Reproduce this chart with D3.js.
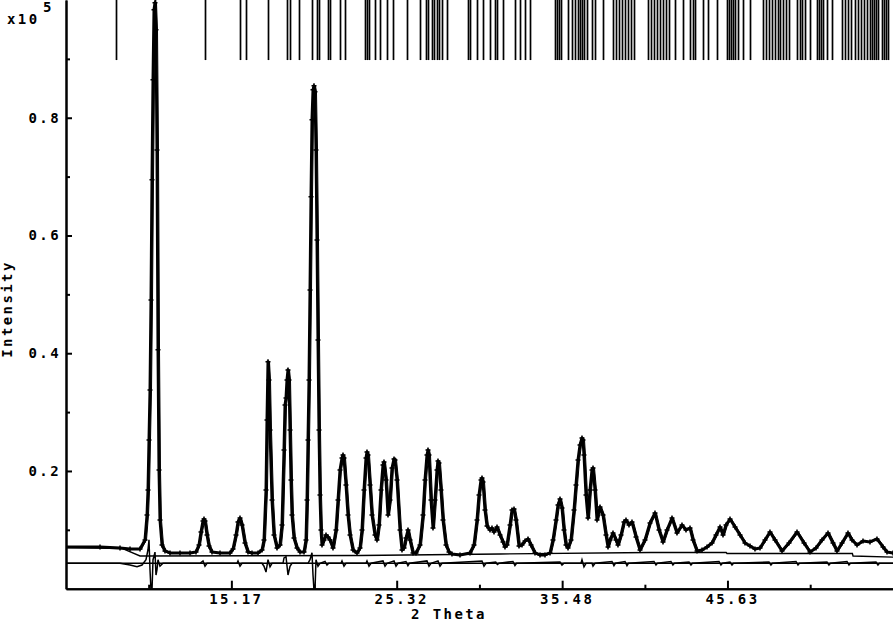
<!DOCTYPE html>
<html><head><meta charset="utf-8">
<script src="https://cdn.jsdelivr.net/npm/d3@7"></script>
<style>
html,body{margin:0;padding:0;background:#fff;}
svg{display:block;}
text{font-family:"DejaVu Sans Mono","Liberation Mono",monospace;font-weight:bold;font-size:14px;fill:#000;letter-spacing:2.4px;}
</style></head><body>
<svg id="chart" width="893" height="622"></svg>
<script>
// ---- axis ticks ----
const xMajorTicks = [15.17, 25.32, 35.48, 45.63];
const xMajorLabels = ["15.17", "25.32", "35.48", "45.63"];
const xMinorTicks = [10.09, 20.25, 30.40, 40.56, 50.71];
const yMajorTicks = [0.2, 0.4, 0.6, 0.8];
const yMajorLabels = ["0.2", "0.4", "0.6", "0.8"];
const yMinorTicks = [0.1, 0.3, 0.5, 0.7, 0.9];
const xDomain = [5.016, 55.794];
const yDomain = [0, 1.0];
const xTitle = "2 Theta";
const yTitle = "Intensity";

// ---- observed pattern (2theta, intensity x1e5) ----
const obsTheta = [5.016,7.104,8.332,8.946,9.560,9.867,9.99,10.051,10.112,10.174,10.235,10.296,10.358,10.419,10.480,10.542,10.603,10.665,10.726,10.787,10.910,11.094,11.401,12.015,12.63,12.998,13.182,13.305,13.428,13.49,13.551,13.674,13.797,13.98,14.472,15.086,15.27,15.454,15.577,15.70,15.822,16.006,16.191,16.436,16.805,17.05,17.173,17.296,17.357,17.419,17.48,17.542,17.664,17.787,17.972,18.156,18.278,18.401,18.463,18.524,18.585,18.647,18.708,18.77,18.831,18.892,19.015,19.20,19.384,19.63,19.752,19.814,19.875,19.936,19.998,20.059,20.12,20.182,20.243,20.304,20.366,20.427,20.488,20.55,20.611,20.672,20.734,20.857,20.98,21.102,21.225,21.41,21.594,21.717,21.84,21.962,22.024,22.085,22.208,22.33,22.454,22.638,22.884,23.068,23.19,23.313,23.436,23.497,23.559,23.682,23.804,23.988,24.111,24.234,24.357,24.48,24.54,24.664,24.787,24.91,25.032,25.156,25.217,25.34,25.524,25.646,25.77,25.892,26.015,26.138,26.322,26.506,26.752,26.936,27.058,27.18,27.243,27.304,27.427,27.55,27.672,27.795,27.857,27.918,28.04,28.164,28.348,28.532,28.716,29.208,29.822,30.067,30.252,30.374,30.497,30.558,30.62,30.742,30.866,31.05,31.172,31.296,31.48,31.664,31.848,31.97,32.094,32.278,32.4,32.524,32.646,32.83,33.014,33.198,33.383,33.567,33.812,34.12,34.426,34.734,34.918,35.102,35.225,35.348,35.47,35.593,35.716,35.84,36.023,36.208,36.33,36.453,36.576,36.698,36.76,36.82,36.944,37.067,37.19,37.312,37.374,37.497,37.62,37.804,37.988,38.172,38.296,38.418,38.602,38.786,38.908,39.093,39.277,39.40,39.584,39.768,40.014,40.26,40.566,40.874,41.18,41.426,41.672,41.917,42.224,42.53,42.838,43.084,43.33,43.514,43.76,44.066,44.374,44.68,44.926,45.172,45.356,45.54,45.786,46.093,46.40,46.706,47.014,47.32,47.628,47.934,48.24,48.548,48.978,49.408,49.90,50.33,50.697,51.066,51.434,51.803,52.11,52.355,52.662,53.03,53.276,53.584,53.952,54.382,54.81,55.18,55.426,55.794];
const obsInt = [0.0709,0.0709,0.0692,0.0675,0.0675,0.0828,0.1252,0.1677,0.2527,0.3376,0.4906,0.6945,0.8644,0.9833,0.9953,0.9494,0.7454,0.4057,0.2017,0.1167,0.0743,0.0641,0.0607,0.0607,0.0607,0.0624,0.0743,0.0963,0.1150,0.1184,0.1150,0.0912,0.0726,0.0624,0.0607,0.0607,0.0675,0.0912,0.1133,0.1201,0.1082,0.0777,0.0624,0.0607,0.0607,0.0658,0.0828,0.1677,0.2867,0.3853,0.3547,0.2697,0.1507,0.0912,0.0692,0.0743,0.1082,0.2357,0.3121,0.3240,0.3547,0.3717,0.3547,0.2697,0.1847,0.1252,0.0861,0.0692,0.0624,0.0624,0.0828,0.1507,0.2527,0.3547,0.5075,0.6656,0.7964,0.8475,0.8542,0.8440,0.7454,0.5925,0.4226,0.2697,0.1592,0.0997,0.0743,0.0828,0.0912,0.0879,0.0828,0.0692,0.0997,0.1507,0.2017,0.2221,0.2272,0.2221,0.1762,0.1252,0.0912,0.0658,0.0607,0.0692,0.0997,0.1677,0.2221,0.2323,0.2272,0.1762,0.1252,0.0912,0.0828,0.1082,0.1677,0.2102,0.2153,0.1847,0.1252,0.1507,0.2051,0.2204,0.2187,0.1847,0.0997,0.0658,0.0692,0.0861,0.0997,0.0828,0.0607,0.0607,0.0743,0.1252,0.1847,0.2272,0.2357,0.2272,0.1507,0.1031,0.1507,0.2017,0.2170,0.2136,0.1677,0.1167,0.0743,0.0624,0.0590,0.0573,0.0607,0.0743,0.1167,0.1592,0.1847,0.1881,0.1813,0.1337,0.1065,0.0997,0.1031,0.0963,0.1048,0.0912,0.0794,0.0709,0.0743,0.1082,0.1337,0.1354,0.1167,0.0726,0.0743,0.0811,0.0845,0.0743,0.0607,0.0573,0.0573,0.0607,0.0828,0.1167,0.1422,0.1524,0.1371,0.0997,0.0743,0.0692,0.0828,0.1337,0.1762,0.2187,0.2442,0.2561,0.2527,0.2272,0.1592,0.1201,0.1677,0.2017,0.2051,0.1677,0.1167,0.1388,0.1252,0.0912,0.0709,0.0828,0.0946,0.0828,0.0743,0.0912,0.1133,0.1167,0.1082,0.1133,0.0879,0.0658,0.0828,0.1116,0.1286,0.0997,0.0794,0.0997,0.1201,0.0946,0.1082,0.0997,0.1031,0.0828,0.0641,0.0658,0.0709,0.0777,0.0912,0.1048,0.0912,0.1082,0.1184,0.1048,0.0912,0.0777,0.0726,0.0675,0.0692,0.0828,0.0963,0.0828,0.0641,0.0777,0.0963,0.0777,0.0624,0.0692,0.0828,0.0946,0.0777,0.0641,0.0777,0.0946,0.0828,0.0743,0.0811,0.0794,0.0845,0.0709,0.0624,0.0607];

// ---- background ----
const bgTheta = [5.016, 8.5, 9.56, 23.068, 31.664, 40.874, 45.55, 45.60, 53.30, 53.34, 55.794];
const bgInt   = [0.0700, 0.0680, 0.0556, 0.0564, 0.0590, 0.0615, 0.0615, 0.0598, 0.0598, 0.0556, 0.0537];

// ---- difference curve (obs - calc), drawn around its zero line ----
const diffZero = 0.0432;
const diffTheta = [5.016,8.332,8.946,9.376,9.683,9.928,10.051,10.112,10.174,10.235,10.296,10.358,10.419,10.480,10.542,10.603,10.665,10.787,10.972,13.244,13.428,13.551,13.674,15.515,15.577,15.70,15.822,17.05,17.173,17.296,17.419,17.542,17.664,18.34,18.401,18.524,18.647,18.77,18.892,19.875,19.998,20.12,20.182,20.243,20.304,20.366,20.488,20.611,20.92,21.04,21.15,21.9,21.962,22.085,22.208,23.436,23.497,23.62,23.743,24.48,24.603,24.726,25.156,25.278,25.401,25.89,26.01,26.1,27.18,27.304,27.427,27.857,27.98,28.102,30.558,30.681,30.804,31.4,31.5,31.6,32.46,32.58,32.68,35.348,35.47,35.593,36.637,36.698,36.82,36.944,37.312,37.374,37.497,38.54,38.66,38.75,39.34,39.46,39.55,41.12,41.24,41.33,42.16,42.28,42.37,43.27,43.39,43.48,45.11,45.23,45.32,45.786,45.908,46.0,48.18,48.30,48.39,49.84,49.96,50.05,51.74,51.86,51.95,52.97,53.09,53.18,54.75,54.87,54.96,55.794];
const diffVal = [0,0,-0.003,-0.006,-0.003,0.006,0.023,0.040,-0.011,-0.046,-0.046,0.006,0.012,0.019,-0.020,-0.011,0.006,-0.005,0,0,0.004,-0.005,0,0,0.004,-0.005,0,0,-0.005,-0.015,0.006,-0.006,0,0,0.009,0.011,-0.020,-0.005,0,0,0.006,0.018,-0.020,-0.046,-0.046,0.006,-0.005,0,0.003,-0.003,0,0,0.004,-0.005,0,0,0.004,-0.005,0,0.004,-0.005,0,0.004,-0.005,0,0.003,-0.004,0,0.004,-0.005,0,0.004,-0.005,0,0.004,-0.005,0,0.002,-0.002,0,0.003,-0.004,0,0.002,-0.003,0,0,0.006,-0.006,0,0,-0.005,0,0.003,-0.004,0,0.003,-0.004,0,0.003,-0.003,0,0.003,-0.003,0,0.002,-0.003,0,0.003,-0.003,0,0.002,-0.003,0,0.002,-0.003,0,0.003,-0.003,0,0.002,-0.003,0,0.003,-0.003,0,0.002,-0.003,0,0];

// ---- reflection positions (2theta) ----
const reflTheta = [8.09,10.48,13.55,15.70,16.07,17.42,18.59,18.77,19.32,20.12,20.43,20.55,21.10,21.22,21.84,22.15,23.37,23.50,23.62,23.99,24.30,24.73,25.09,25.95,26.75,27.12,27.24,27.49,27.61,27.80,27.92,28.10,28.41,29.70,29.82,30.25,30.62,31.05,31.36,31.48,31.85,32.58,32.89,33.20,33.51,35.04,35.16,35.29,35.41,35.84,36.09,36.27,36.45,36.58,36.70,36.82,37.01,37.31,37.50,37.99,38.60,38.79,38.97,39.15,39.34,39.52,39.71,39.89,40.75,40.94,41.12,41.30,41.49,41.67,41.86,42.04,42.41,42.90,43.33,43.51,43.64,44.13,44.43,44.99,45.60,45.72,45.85,45.97,46.09,46.28,46.58,47.01,47.81,48.00,48.18,48.36,48.55,48.73,48.86,49.04,49.22,49.41,49.90,50.08,50.21,50.39,50.70,51.13,51.25,51.37,51.49,51.74,52.05,52.66,52.85,53.03,53.21,53.46,53.64,53.83,54.01,54.20,54.38,54.50,54.63,54.75,54.87,55.12,55.24,55.36,55.49];
const reflTop = 1.0, reflBottom = 0.898;

// ---- drawing ----
const svg = d3.select("#chart");
const L = 66, R = 893, T = 0, B = 588.7;
const x = d3.scaleLinear().domain(xDomain).range([L, R]);
const y = d3.scaleLinear().domain(yDomain).range([B, T]);

svg.append("defs").append("clipPath").attr("id", "clip")
  .append("rect").attr("x", L).attr("y", T).attr("width", R - L).attr("height", B - T);
const plot = svg.append("g").attr("clip-path", "url(#clip)");

const n = Math.min(obsTheta.length, obsInt.length);
const obs = d3.range(n).map(i => [obsTheta[i], obsInt[i]]);
const bg = bgTheta.map((t, i) => [t, bgInt[i]]);
const nd = Math.min(diffTheta.length, diffVal.length);
const diff = d3.range(nd).map(i => [diffTheta[i], diffZero + diffVal[i]]);

const line = d3.line().x(d => x(d[0])).y(d => y(d[1]));

// reflection markers
plot.append("g").selectAll("line").data(reflTheta).join("line")
  .attr("x1", d => Math.round(x(d)) + 0.5).attr("x2", d => Math.round(x(d)) + 0.5)
  .attr("y1", y(reflTop)).attr("y2", y(reflBottom))
  .attr("stroke", "#000").attr("stroke-width", 1.7);

// background
plot.append("path").datum(bg).attr("d", line)
  .attr("fill", "none").attr("stroke", "#000").attr("stroke-width", 1.4);

// difference zero line + difference curve
plot.append("line").attr("x1", L).attr("x2", R)
  .attr("y1", y(diffZero)).attr("y2", y(diffZero))
  .attr("stroke", "#000").attr("stroke-width", 1.3);
plot.append("path").datum(diff).attr("d", line)
  .attr("fill", "none").attr("stroke", "#000").attr("stroke-width", 1.5);

// observed: thick jagged trace + cross markers
plot.append("path").datum(obs).attr("d", line)
  .attr("fill", "none").attr("stroke", "#000").attr("stroke-width", 3)
  .attr("stroke-linejoin", "round");
const cs = 2.5;
plot.append("g").selectAll("path").data(obs).join("path")
  .attr("d", d => {
    const px = x(d[0]), py = y(d[1]);
    return `M${px - cs},${py}H${px + cs}M${px},${py - cs}V${py + cs}`;
  })
  .attr("stroke", "#000").attr("stroke-width", 1.5);
// calculated (thin)
plot.append("path").datum(obs).attr("d", d3.line().x(d => x(d[0]) + 1.5).y(d => y(d[1])))
  .attr("fill", "none").attr("stroke", "#000").attr("stroke-width", 1);

// axes
const axL = svg.append("g").attr("transform", `translate(${L},0)`);
axL.call(d3.axisRight(y).tickValues(yMinorTicks).tickSize(4).tickFormat("").tickSizeOuter(0));
axL.call(g => g.append("g").call(d3.axisRight(y).tickValues(yMajorTicks).tickSize(6).tickFormat("").tickSizeOuter(0)));
const axB = svg.append("g").attr("transform", `translate(0,${B})`);
axB.call(d3.axisTop(x).tickValues(xMinorTicks).tickSize(4).tickFormat("").tickSizeOuter(0));
axB.call(g => g.append("g").call(d3.axisTop(x).tickValues(xMajorTicks).tickSize(8).tickFormat("").tickSizeOuter(0)));
svg.selectAll(".domain").attr("stroke", "#000").attr("stroke-width", 2);
svg.selectAll(".tick line").attr("stroke", "#000").attr("stroke-width", 2);

// tick labels
svg.append("g").selectAll("text").data(yMajorTicks).join("text")
  .attr("x", 61).attr("y", d => y(d) + 5).attr("text-anchor", "end")
  .text((d, i) => yMajorLabels[i]);
svg.append("g").selectAll("text").data(xMajorTicks).join("text")
  .attr("x", d => x(d) + 5).attr("y", 604).attr("text-anchor", "middle")
  .text((d, i) => xMajorLabels[i]);

// titles
svg.append("text").attr("x", 449).attr("y", 619).attr("text-anchor", "middle").text(xTitle);
svg.append("text").attr("transform", "translate(12,309) rotate(-90)").attr("text-anchor", "middle").text(yTitle);
svg.append("text").attr("x", 7).attr("y", 24).text("x10");
svg.append("text").attr("x", 43).attr("y", 12).text("5");
</script>
</body></html>
